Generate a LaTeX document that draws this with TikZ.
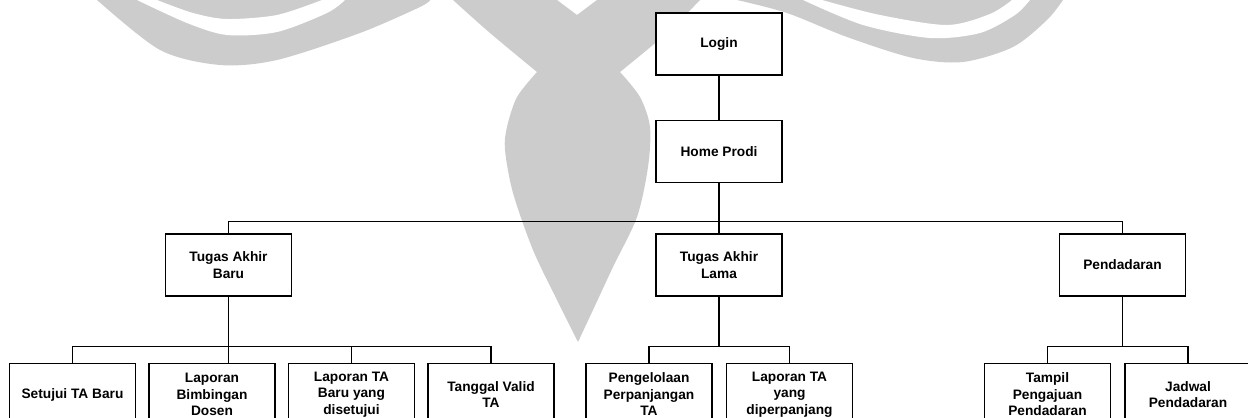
\documentclass[tikz,border=0pt]{standalone}
\usepackage{fontspec}
\setmainfont{Liberation Sans}
\usepackage{tikz}
\usetikzlibrary{positioning}
\definecolor{wmgray}{HTML}{CCCCCC}
\tikzset{
  menubox/.style={
    draw=black,
    fill=white,
    line width=0.3mm,
    align=center,
    inner sep=1pt,
    minimum width=25.2mm,
    minimum height=12.4mm,
    font=\fontsize{7.8}{9.4}\selectfont\bfseries
  },
  treeline/.style={draw=black, line width=0.22mm},
  watermark/.style={fill=wmgray, draw=none}
}

\begin{document}
\begin{tikzpicture}[x=0.2mm, y=-0.2mm]
\useasboundingbox (0,0) rectangle (1248,418);
\clip (0,0) rectangle (1248,418);

% watermark
\fill[watermark] plot[smooth] coordinates {(97,0) (160,50) (220,65) (277,60) (360,33) (420,7) (430,0)} -- cycle;
\fill[white] plot[smooth] coordinates {(137,0) (187,23) (227,35) (277,32) (327,13) (345,0)}
  -- plot[smooth] coordinates {(322,0) (277,15) (227,19) (193,13) (157,0)} -- cycle;
\fill[watermark] (453,0) -- (557,0) -- (577,15) -- (597,0) -- (700,0)
  -- plot[smooth] coordinates {(700,0) (667,33) (620,72)}
  -- plot[smooth] coordinates {(620,72) (640,97) (650,127) (648,167) (637,217) (613,267) (593,310) (578,342)}
  -- plot[smooth] coordinates {(578,342) (557,300) (533,250) (513,193) (505,150) (507,127) (517,97) (537,72)}
  -- plot[smooth] coordinates {(537,72) (490,33) (453,0)} -- cycle;
\fill[watermark] plot[smooth] coordinates {(737,0) (787,13) (847,37) (913,58) (963,62) (1013,47) (1047,20) (1063,0)} -- cycle;
\fill[white] plot[smooth] coordinates {(803,0) (863,25) (930,38) (980,33) (1015,15) (1030,0)}
  -- plot[smooth] coordinates {(1012,0) (990,14) (947,25) (880,15) (822,0)} -- cycle;

\node[menubox] (login) at (719,44) {Login};
\node[menubox, below=8.8mm of login] (home) {Home Prodi};
\node[menubox, below=10mm of home] (tal) {Tugas Akhir\\Lama};
\node[menubox, left=72.6mm of tal] (tab) {Tugas Akhir\\Baru};
\node[menubox, right=55.2mm of tal] (pend) {Pendadaran};

\node[menubox, below=13.2mm of tab, xshift=-31.2mm] (setujui) {Setujui TA Baru};
\node[menubox, right=2.4mm of setujui] (bimbingan) {Laporan\\Bimbingan\\Dosen};
\node[menubox, right=2.4mm of bimbingan] (disetujui) {Laporan TA\\Baru yang\\disetujui};
\node[menubox, right=2.4mm of disetujui] (tglvalid) {Tanggal Valid\\TA};
\node[menubox, below=13.2mm of tal, xshift=-14mm] (kelola) {Pengelolaan\\Perpanjangan\\TA};
\node[menubox, right=2.6mm of kelola] (diperpanjang) {Laporan TA\\yang\\diperpanjang};
\node[menubox, below=13.2mm of pend, xshift=-15mm] (tampil) {Tampil\\Pengajuan\\Pendadaran};
\node[menubox, right=2.6mm of tampil] (jadwal) {Jadwal\\Pendadaran};

\draw[treeline] (login) -- (home);
\draw[treeline] (home) -- (tal);
\draw[treeline] (tab.north) -- ++(0,2.4mm) -| (pend.north);
\draw[treeline] (tab.south) -- (tab.south |- bimbingan.north);
\draw[treeline] (setujui.north) -- ++(0,3.2mm) -| (tglvalid.north);
\draw[treeline] (disetujui.north) -- ++(0,3.2mm);
\draw[treeline] (tal.south) -- ++(0,-10mm);
\draw[treeline] (kelola.north) -- ++(0,3.2mm) -| (diperpanjang.north);
\draw[treeline] (pend.south) -- ++(0,-10mm);
\draw[treeline] (tampil.north) -- ++(0,3.2mm) -| (jadwal.north);
\end{tikzpicture}
\end{document}
